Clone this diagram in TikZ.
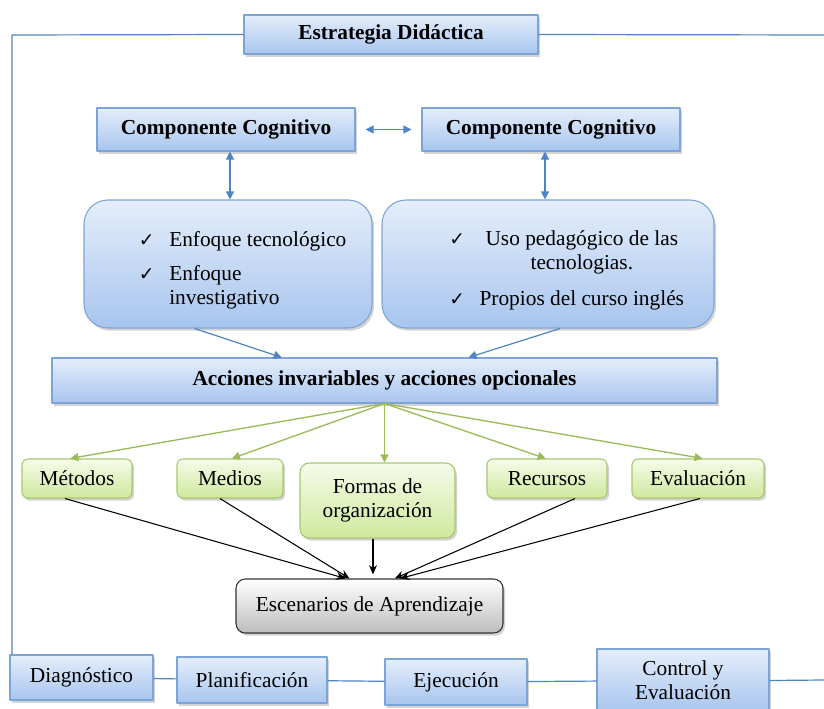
\documentclass[tikz,border=0pt]{standalone}
\usepackage{fontspec}
\setmainfont{Liberation Serif}
\newfontfamily\chkfont{DejaVu Sans}
\usepackage{xcolor}
\usetikzlibrary{arrows.meta,positioning,calc,shadows}
\definecolor{lineblue}{HTML}{5083C2}
\definecolor{boxedge}{HTML}{7DA4D6}
\definecolor{boxtop}{HTML}{E4EEFB}
\definecolor{boxbot}{HTML}{A8C5EE}
\definecolor{grnedge}{HTML}{A7C76E}
\definecolor{grntop}{HTML}{F6FBEA}
\definecolor{grnbot}{HTML}{CFE89D}
\definecolor{grnline}{HTML}{9BBB59}
\definecolor{grybot}{HTML}{BDBDBD}
\newcommand{\chk}{{\chkfont\fontsize{14}{14}\selectfont ✓}}
\tikzset{
    every picture/.style={line join=round},
    boxsize/.style 2 args={minimum width=#1*.75pt,minimum height=#2*.75pt},
    shadowed/.style={drop shadow={opacity=.35,shadow xshift=1.5pt,shadow yshift=-2pt}},
    bluebox/.style={draw=boxedge,top color=boxtop,bottom color=boxbot,line width=0.8pt,
      inner sep=2pt,align=center,shadowed},
    titlebox/.style={bluebox,font=\fontsize{16}{18}\selectfont\bfseries},
    listbox/.style={bluebox,rounded corners=18pt},
    greenbox/.style={draw=grnedge,top color=grntop,bottom color=grnbot,line width=0.8pt,
      rounded corners=4.5pt,inner sep=2pt,align=center,shadowed},
    scenebox/.style={draw=black!80,top color=white,bottom color=grybot,line width=0.8pt,
      rounded corners=7pt,inner sep=2pt,align=center,shadowed},
    blueline/.style={draw=lineblue,line width=0.9pt},
    bluearrow/.style={blueline,{Triangle[length=6pt,width=6pt]}-{Triangle[length=6pt,width=6pt]}},
    onearrow/.style={blueline,-{Triangle[length=6pt,width=6pt]}},
    greenarrow/.style={draw=grnline,line width=1pt,-{Triangle[length=6pt,width=6pt]}},
    blackarrow/.style={draw=black,line width=0.8pt,-{Stealth[length=7pt,width=6pt]}}
}
\begin{document}
\begin{tikzpicture}[x=.75pt,y=-.75pt,font=\fontsize{16}{18}\selectfont]
  \useasboundingbox (0,0) rectangle (824,709);
  % upper part
  \node[titlebox,boxsize={294}{39}] (estr) at (391,34.5) {Estrategia Didáctica};
  \node[titlebox,boxsize={258}{43}] (compA) at (226,129.5) {Componente Cognitivo};
  \node[titlebox,boxsize={258}{43}] (compB) at (551,129.5) {Componente Cognitivo};
  \node[listbox,boxsize={288}{128}] (listA) at (228,264) {\hspace*{22pt}%
    \raisebox{0pt}[\dimexpr\height+10pt\relax]{%
    \begin{tabular}{@{}c@{\hspace{11pt}}l@{}}\chk & Enfoque tecnológico\\[8pt]
      \chk & Enfoque\\ & investigativo\end{tabular}}};
  \node[listbox,boxsize={332}{128}] (listB) at (548,264) {\hspace*{28pt}%
    \raisebox{0pt}[\dimexpr\height+10pt\relax]{%
    \begin{tabular}{@{}c@{\hspace{11pt}}c@{}}\chk & Uso pedagógico de las\\ & tecnologias.\\[9pt]
      \chk & Propios del curso inglés\end{tabular}}};
  \node[titlebox,boxsize={665}{45}] (acc) at (384.5,380.5) {Acciones invariables y acciones opcionales};
  % middle row
  \node[greenbox,boxsize={110}{39}] (met) at (77,478.5) {Métodos};
  \node[greenbox,boxsize={106}{39}] (med) at (230,478.5) {Medios};
  \node[greenbox,boxsize={155}{75},rounded corners=7pt] (form) at (377.5,500.5) {Formas de\\organización};
  \node[greenbox,boxsize={120}{39}] (rec) at (547,478.5) {Recursos};
  \node[greenbox,boxsize={132}{39}] (eva) at (698,478.5) {Evaluación};
  \node[scenebox,boxsize={267}{54}] (esc) at (369.5,606) {Escenarios de Aprendizaje};
  % bottom row
  \node[bluebox,boxsize={143}{45}] (diag) at (81.5,677.5) {Diagnóstico};
  \node[bluebox,boxsize={150}{46}] (plan) at (252,680) {Planificación};
  \node[bluebox,boxsize={142}{46}] (ejec) at (456,682) {Ejecución};
  \node[bluebox,boxsize={172}{63}] (ctrl) at (683,680.5) {Control y\\Evaluación};
  \coordinate (corner) at (12,35);
  \coordinate (redge) at (824,35);
  \coordinate (bedge) at (824,680);
  % frame lines
  \draw[blueline] (estr.west) -- (corner) -- (corner |- diag.north);
  \draw[blueline] (estr.east) -- (redge);
  \draw[blueline] (diag) -- (plan);
  \draw[blueline] (plan) -- (ejec);
  \draw[blueline] (ejec) -- (ctrl);
  \draw[blueline] (ctrl.east) -- (bedge);
  % arrows
  \draw[bluearrow,shorten <=7.5pt,shorten >=7.5pt] (compA) -- (compB);
  \draw[bluearrow] ([xshift=3pt]compA.south) -- ([xshift=3pt]compA.south |- listA.north);
  \draw[bluearrow] ([xshift=-4.5pt]compB.south) -- ([xshift=-4.5pt]compB.south |- listB.north);
  \draw[onearrow] ([xshift=-25pt]listA.south) -- ([xshift=-77pt]acc.north);
  \draw[onearrow] ([xshift=9pt]listB.south) -- ([xshift=63pt]acc.north);
  \foreach \n/\dx in {met/-5,med/1.5,rec/-1,eva/3.5}
    \draw[greenarrow] (acc.south) -- ([xshift=\dx pt]\n.north);
  \draw[greenarrow] (acc.south) -- (acc.south |- form.north);
  \draw[blackarrow] ([xshift=-9pt]met.south) -- ([xshift=-18pt]esc.north);
  \draw[blackarrow] ([xshift=-7.5pt]med.south) -- ([xshift=-15pt]esc.north);
  \draw[blackarrow,shorten >=3pt] ([xshift=-3.4pt]form.south) -- ([xshift=2.6pt]esc.north);
  \draw[blackarrow] ([xshift=21pt]rec.south) -- ([xshift=19pt]esc.north);
  \draw[blackarrow] ([xshift=1.5pt]eva.south) -- ([xshift=23pt]esc.north);
\end{tikzpicture}
\end{document}
